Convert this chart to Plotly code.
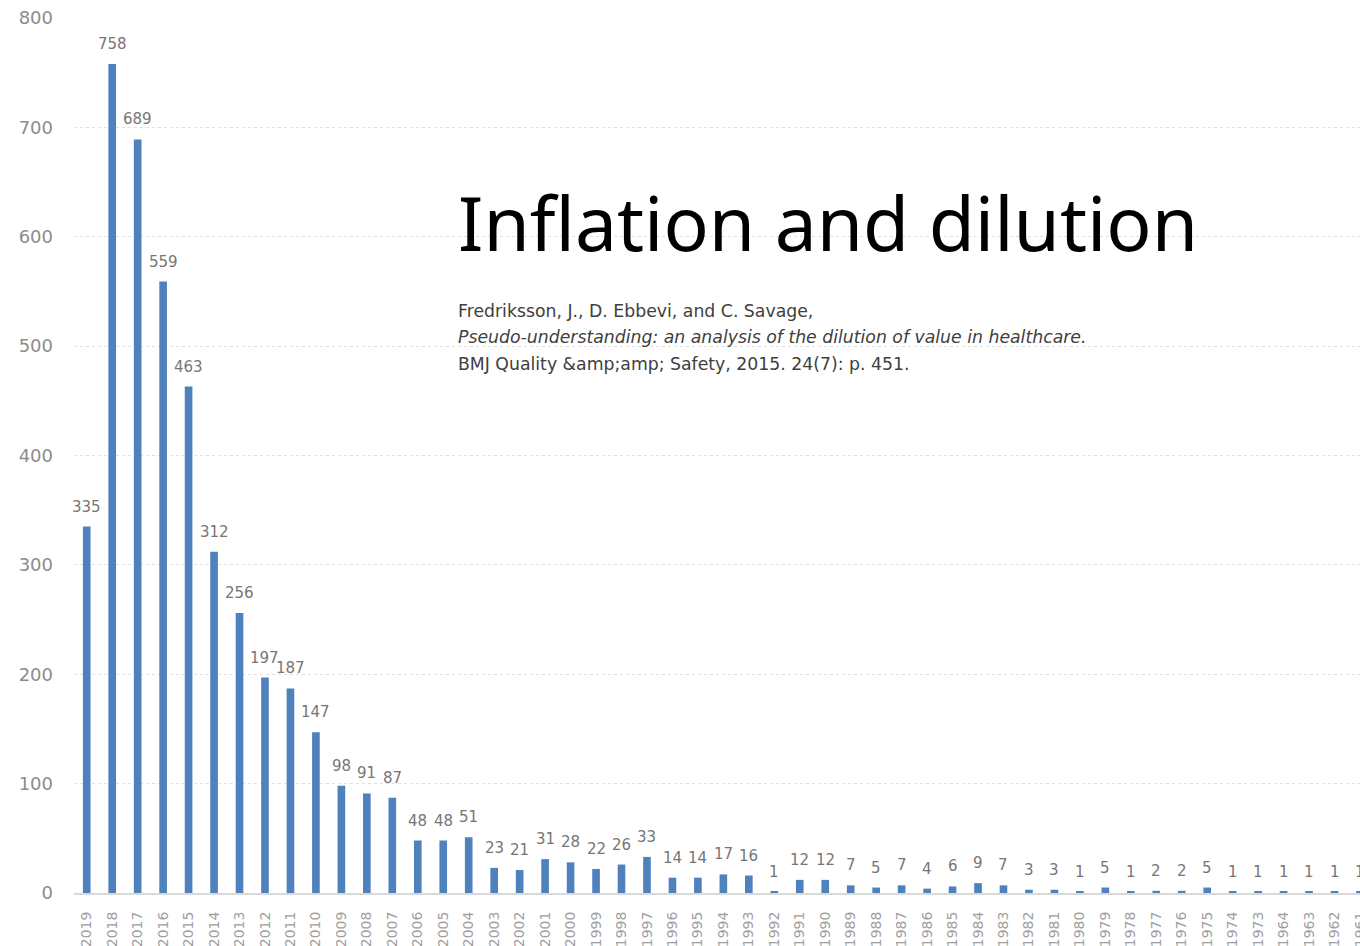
import plotly.graph_objects as go

years = ["2019", "2018", "2017", "2016", "2015", "2014", "2013", "2012", "2011", "2010",
         "2009", "2008", "2007", "2006", "2005", "2004", "2003", "2002", "2001", "2000",
         "1999", "1998", "1997", "1996", "1995", "1994", "1993", "1992", "1991", "1990",
         "1989", "1988", "1987", "1986", "1985", "1984", "1983", "1982", "1981", "1980",
         "1979", "1978", "1977", "1976", "1975", "1974", "1973", "1964", "1963", "1962",
         "1961"]
counts = [335, 758, 689, 559, 463, 312, 256, 197, 187, 147,
          98, 91, 87, 48, 48, 51, 23, 21, 31, 28,
          22, 26, 33, 14, 14, 17, 16, 1, 12, 12,
          7, 5, 7, 4, 6, 9, 7, 3, 3, 1,
          5, 1, 2, 2, 5, 1, 1, 1, 1, 1,
          1]
y_ticks = [0, 100, 200, 300, 400, 500, 600, 700, 800]

title_text = "Inflation and dilution"
citation_lines = [
    "Fredriksson, J., D. Ebbevi, and C. Savage,",
    "<i>Pseudo-understanding: an analysis of the dilution of value in healthcare.</i>",
    "BMJ Quality &amp;amp;amp; Safety, 2015. 24(7): p. 451.",
]

L, T, W, H = 74, 18, 1360, 946
B = 53

fig = go.Figure()
fig.add_trace(go.Bar(
    x=years, y=counts, width=0.3,
    marker=dict(color="#4f81bd", line=dict(width=0)),
    showlegend=False, hoverinfo="x+y",
))

annotations = []
for i, c in enumerate(counts):
    annotations.append(dict(
        x=i, y=c, xref="x", yref="y", text=str(c), showarrow=False,
        yshift=20, font=dict(family="DejaVu Sans", size=15, color="#767676"),
    ))

plot_w = W - L
plot_h = H - T - B
annotations.append(dict(
    x=(456 - L) / plot_w, y=(H - B - 222) / plot_h, xref="paper", yref="paper",
    xanchor="left", yanchor="middle", text=title_text, showarrow=False,
    font=dict(family="Noto Sans", size=75, color="#000000"),
))
for line, yc in zip(citation_lines, [311, 337, 364]):
    annotations.append(dict(
        x=(456 - L) / plot_w, y=(H - B - yc) / plot_h, xref="paper", yref="paper",
        xanchor="left", yanchor="middle", text=line, showarrow=False,
        font=dict(family="DejaVu Sans", size=17.3, color="#404040"),
    ))

fig.update_layout(
    width=W, height=H,
    margin=dict(l=L, r=0, t=T, b=B, pad=0, autoexpand=False),
    plot_bgcolor="white", paper_bgcolor="white",
    annotations=annotations,
    xaxis=dict(
        type="category", range=[-0.5, len(years) - 1],
        tickangle=-90, tickfont=dict(family="DejaVu Sans", size=14, color="#a0a0a0"),
        showgrid=False, showline=True, linecolor="#d9d9d9", linewidth=2,
        ticks="", ticklabelstandoff=11, fixedrange=True,
    ),
    yaxis=dict(
        range=[0, 800], tickvals=y_ticks,
        tickfont=dict(family="DejaVu Sans", size=18, color="#8c8c8c"),
        showgrid=True, gridcolor="#e0e0e0", griddash="dot", gridwidth=1,
        zeroline=False, showline=False, ticks="", ticklabelstandoff=20,
    ),
)

fig.write_html("out.html")
